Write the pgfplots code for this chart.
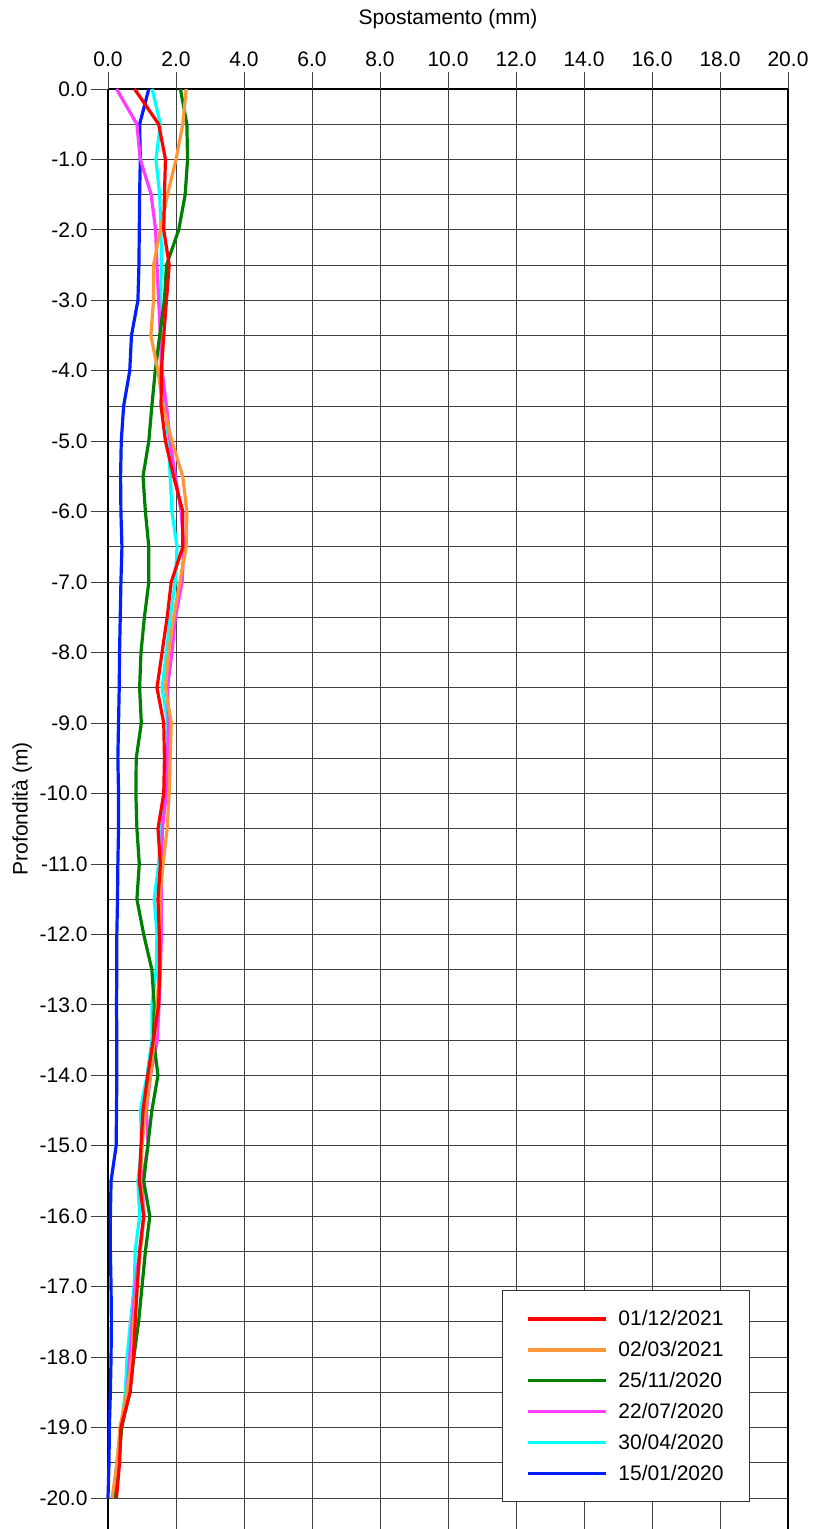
\documentclass[border=0pt]{standalone}
\usepackage{pgfplots}
\pgfplotsset{compat=1.18}
\usepackage{pgfplotstable}
\usepackage{fontspec}
\setmainfont{Liberation Sans}
\definecolor{cred}{RGB}{255,0,0}
\definecolor{corange}{RGB}{255,150,55}
\definecolor{cgreen}{RGB}{0,128,0}
\definecolor{cmag}{RGB}{255,60,255}
\definecolor{ccyan}{RGB}{0,255,255}
\definecolor{cblue}{RGB}{0,30,255}
\pgfplotstableread{
d red orange green mag cyan blue
0 0.78 2.30 2.13 0.25 1.30 1.20
-0.5 1.49 2.20 2.32 0.85 1.54 0.93
-1 1.69 2.00 2.34 0.95 1.41 0.95
-1.5 1.66 1.75 2.27 1.27 1.52 0.93
-2 1.64 1.54 2.08 1.40 1.56 0.92
-2.5 1.80 1.34 1.72 1.44 1.57 0.91
-3 1.72 1.34 1.66 1.49 1.55 0.88
-3.5 1.64 1.26 1.52 1.54 1.56 0.69
-4 1.57 1.47 1.39 1.59 1.56 0.64
-4.5 1.56 1.62 1.29 1.72 1.69 0.46
-5 1.69 1.88 1.20 1.83 1.78 0.39
-5.5 1.93 2.20 1.03 1.98 1.83 0.37
-6 2.20 2.32 1.10 2.15 1.88 0.38
-6.5 2.20 2.30 1.20 2.23 2.03 0.41
-7 1.86 2.11 1.20 2.18 1.98 0.38
-7.5 1.74 1.93 1.07 1.98 1.83 0.36
-8 1.59 1.78 0.97 1.88 1.72 0.34
-8.5 1.44 1.69 0.93 1.75 1.59 0.33
-9 1.64 1.86 0.98 1.78 1.76 0.31
-9.5 1.66 1.83 0.83 1.75 1.74 0.29
-10 1.64 1.80 0.82 1.72 1.70 0.31
-10.5 1.47 1.74 0.85 1.60 1.55 0.31
-11 1.54 1.62 0.92 1.58 1.49 0.29
-11.5 1.47 1.52 0.85 1.57 1.36 0.28
-12 1.51 1.54 1.05 1.57 1.44 0.26
-12.5 1.52 1.50 1.29 1.54 1.42 0.26
-13 1.49 1.45 1.36 1.50 1.29 0.25
-13.5 1.33 1.36 1.34 1.45 1.29 0.26
-14 1.17 1.25 1.47 1.25 1.15 0.26
-14.5 1.03 1.10 1.29 1.13 0.95 0.25
-15 0.97 1.00 1.17 1.18 1.00 0.24
-15.5 0.92 0.95 1.05 1.00 0.88 0.09
-16 1.05 1.06 1.23 1.05 0.93 0.07
-16.5 0.93 0.95 1.10 0.93 0.80 0.07
-17 0.86 0.85 1.00 0.80 0.77 0.09
-17.5 0.80 0.76 0.90 0.71 0.66 0.10
-18 0.75 0.71 0.76 0.64 0.56 0.09
-18.5 0.65 0.56 0.64 0.56 0.51 0.07
-19 0.38 0.35 0.40 0.41 0.38 0.04
-19.5 0.34 0.27 0.32 0.26 0.26 0.03
-20 0.25 0.12 0.20 0.17 0.15 0.00
}\datatable
\begin{document}
\begin{tikzpicture}[font=\fontsize{21}{25}\selectfont]
\begin{axis}[
  at={(0pt,0pt)}, anchor=south west,
  scale only axis, width=680pt, height=1440pt,
  xmin=0, xmax=20, ymin=-20.44, ymax=0,
  clip=false,
  separate axis lines,
  x axis line style={draw=none},
  y axis line style={black, line width=1.4pt},
  xtick pos=upper, xticklabel pos=upper,
  ytick pos=lower, yticklabel pos=lower,
  xtick={0,2,...,20}, ytick={0,-1,...,-20},
  minor ytick={-0.5,-1.5,...,-19.5},
  extra y ticks={0}, extra y tick labels={},
  extra y tick style={major grid style={black, line width=2pt}},
  xmajorgrids, ymajorgrids, yminorgrids,
  major grid style={black!75, line width=0.8pt},
  minor grid style={black!75, line width=0.8pt},
  tick align=outside,
  major tick length=17pt, minor tick length=0pt,
  tick style={black!75, line width=0.8pt},
  /pgf/number format/assume math mode=true,
  tick label style={font=\fontsize{21}{25}\selectfont},
  xticklabel style={yshift=2pt, /pgf/number format/.cd, fixed, fixed zerofill, precision=1},
  yticklabel style={/pgf/number format/.cd, fixed, fixed zerofill, precision=1},
  label style={font=\fontsize{21}{25}\selectfont},
  xlabel={Spostamento (mm)}, ylabel={Profondità (m)},
  xlabel style={at={(axis description cs:0.5,1)}, anchor=center, yshift=70pt},
  ylabel style={at={(axis description cs:0,0.5)}, anchor=center, yshift=86pt},
  reverse legend,
  legend cell align=left,
  legend style={at={(axis cs:18.88,-20.06)}, anchor=south east,
    draw=black!80, line width=0.8pt, fill=white,
    font=\fontsize{21}{25}\selectfont, inner xsep=24pt, inner ysep=18pt,
    row sep=10.2pt, column sep=9pt},
  legend image code/.code={\draw[#1, line width=3.5pt] (0pt,0pt) -- (78pt,0pt);},
  every axis plot/.append style={line width=3.2pt, no marks},
  after end axis/.code={
    \foreach \xv in {0,2,...,20} {\draw[black!75, line width=0.8pt] (axis cs:\xv,0) -- ++(0pt,17pt);}
    \foreach \yv in {0,-1,...,-20} {\draw[black!75, line width=0.8pt] (axis cs:0,\yv) -- ++(-17pt,0pt);}
  },
]
\addplot[cblue] table[x=blue, y=d] {\datatable};
\addlegendentry{15/01/2020}
\addplot[ccyan] table[x=cyan, y=d] {\datatable};
\addlegendentry{30/04/2020}
\addplot[cmag] table[x=mag, y=d] {\datatable};
\addlegendentry{22/07/2020}
\addplot[cgreen] table[x=green, y=d] {\datatable};
\addlegendentry{25/11/2020}
\addplot[corange] table[x=orange, y=d] {\datatable};
\addlegendentry{02/03/2021}
\addplot[cred] table[x=red, y=d] {\datatable};
\addlegendentry{01/12/2021}
\end{axis}
\pgfresetboundingbox
\path[use as bounding box] (-108pt,0pt) rectangle (719pt,1529pt);
\end{tikzpicture}
\end{document}
